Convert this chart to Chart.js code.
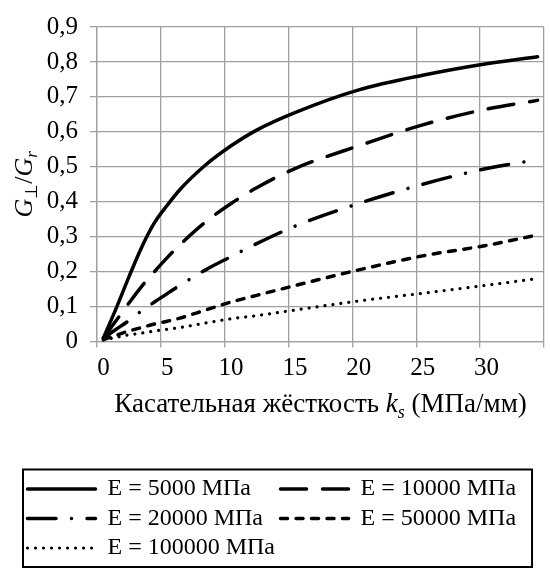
<!DOCTYPE html>
<html lang="ru">
<head>
<meta charset="UTF-8">
<title>G⊥/Gr от касательной жёсткости</title>
<script src="https://cdn.jsdelivr.net/npm/chart.js@4"></script>
<style>
  html, body { margin: 0; padding: 0; background: #fff; }
  #wrap { width: 550px; height: 575px; }
</style>
</head>
<body>
<div id="wrap"><canvas id="chart"></canvas></div>
<script>
// касательная жёсткость ks, МПа/мм
const ks = [0, 1, 2, 3, 4, 5, 6, 8, 10, 12, 15, 20, 25, 30, 34];

// G⊥/Gr
const e5000   = [0.01, 0.095, 0.185, 0.27, 0.34, 0.39, 0.435, 0.505, 0.56, 0.605, 0.655, 0.72, 0.762, 0.795, 0.815];
const e10000  = [0.01, 0.06, 0.11, 0.158, 0.2, 0.24, 0.277, 0.342, 0.395, 0.44, 0.495, 0.56, 0.62, 0.665, 0.69];
const e20000  = [0.01, 0.035, 0.06, 0.088, 0.113, 0.137, 0.161, 0.205, 0.243, 0.28, 0.33, 0.395, 0.45, 0.495, 0.52];
const e50000  = [0.005, 0.018, 0.03, 0.04, 0.05, 0.058, 0.067, 0.09, 0.113, 0.132, 0.16, 0.205, 0.245, 0.275, 0.305];
const e100000 = [0.004, 0.012, 0.019, 0.024, 0.03, 0.035, 0.04, 0.053, 0.065, 0.074, 0.09, 0.116, 0.138, 0.161, 0.18];

const seriesNames = ['E = 5000 МПа', 'E = 10000 МПа', 'E = 20000 МПа', 'E = 50000 МПа', 'E = 100000 МПа'];
const xTickLabels = ['0', '5', '10', '15', '20', '25', '30'];
const yTickLabels = ['0', '0,1', '0,2', '0,3', '0,4', '0,5', '0,6', '0,7', '0,8', '0,9'];

const FONT = '"Liberation Serif", "Times New Roman", serif';
const TICK_FS = 25;
const LEG_FS = 24;
const GRID = '#a0a0a0';

function pts(arr) {
  return ks.map((x, i) => ({ x: x, y: arr[i] }));
}

function line(name, arr, dash, width) {
  return {
    label: name,
    data: pts(arr),
    borderColor: '#000',
    backgroundColor: '#000',
    borderWidth: width,
    borderDash: dash,
    borderCapStyle: 'round',
    pointRadius: 0,
    cubicInterpolationMode: 'monotone'
  };
}

// текст из кусков (курсив, индексы)
function drawRich(ctx, parts, cx, baseY) {
  let total = 0;
  parts.forEach(p => { ctx.font = p.f; p.w = ctx.measureText(p.t).width; total += p.w; });
  let x = cx - total / 2;
  parts.forEach(p => {
    ctx.font = p.f;
    ctx.fillText(p.t, x, baseY + (p.dy || 0));
    x += p.w;
  });
}

const extras = {
  id: 'extras',
  afterDraw(chart) {
    const { ctx, chartArea, legend } = chart;
    ctx.save();
    ctx.fillStyle = '#000';
    ctx.textAlign = 'left';
    ctx.textBaseline = 'alphabetic';

    // подпись оси X
    drawRich(ctx, [
      { t: 'Касательная жёсткость ', f: `27px ${FONT}` },
      { t: 'k', f: `italic 27px ${FONT}` },
      { t: 's', f: `italic 18px ${FONT}`, dy: 6 },
      { t: ' (МПа/мм)', f: `27px ${FONT}` }
    ], (chartArea.left + chartArea.right) / 2, chartArea.bottom + 70);

    // подпись оси Y
    ctx.save();
    ctx.translate(32, (chartArea.top + chartArea.bottom) / 2);
    ctx.rotate(-Math.PI / 2);
    drawRich(ctx, [
      { t: 'G', f: `italic 26px ${FONT}` },
      { t: '⊥', f: `17px ${FONT}`, dy: 5 },
      { t: '/', f: `26px ${FONT}` },
      { t: 'G', f: `italic 26px ${FONT}` },
      { t: 'r', f: `italic 17px ${FONT}`, dy: 5 }
    ], 0, 0);
    ctx.restore();

    // рамка легенды
    const right = Math.max(...legend.legendHitBoxes.map(h => h.left + h.width)) + 16;
    ctx.strokeStyle = '#000';
    ctx.lineWidth = 2;
    ctx.strokeRect(legend.left + 1, legend.top - 2, right - legend.left - 1, legend.height - 1);
    ctx.restore();
  }
};

// левый столбец легенды дополняется пробелами до общей ширины
function padLabel(ctx, text, width) {
  ctx.font = `${LEG_FS}px ${FONT}`;
  const sp = ctx.measureText(' ').width;
  while (ctx.measureText(text).width + sp / 2 < width) text += ' ';
  return text;
}

new Chart(document.getElementById('chart'), {
  type: 'line',
  data: {
    datasets: [
      line(seriesNames[0], e5000, [], 3.5),
      line(seriesNames[1], e10000, [26, 16], 3.5),
      line(seriesNames[2], e20000, [28.5, 15.5, 0.01, 15.5], 3.5),
      line(seriesNames[3], e50000, [7, 8.5], 3.5),
      line(seriesNames[4], e100000, [0.01, 8], 3.2)
    ]
  },
  options: {
    responsive: true,
    maintainAspectRatio: false,
    animation: false,
    layout: { padding: { left: 22, right: 6, top: 17, bottom: 5 } },
    plugins: {
      tooltip: { enabled: false },
      legend: {
        position: 'bottom',
        align: 'start',
        labels: {
          usePointStyle: true,
          pointStyle: 'line',
          pointStyleWidth: 68,
          padding: 5.5,
          color: '#000',
          font: { family: FONT, size: LEG_FS },
          generateLabels(chart) {
            const items = Chart.defaults.plugins.legend.labels.generateLabels(chart);
            items.forEach(it => {
              const ds = chart.data.datasets[it.datasetIndex];
              it.text = it.datasetIndex % 2 === 0 && it.datasetIndex < 4 ? padLabel(chart.ctx, ds.label, 170) : ds.label;
              it.lineDash = ds.borderDash;
              it.lineWidth = ds.borderWidth;
              it.lineCap = 'round';
              it.strokeStyle = '#000';
            });
            return items;
          }
        }
      }
    },
    scales: {
      x: {
        type: 'linear',
        min: -0.5,
        max: 34.5,
        afterBuildTicks(scale) {
          scale.ticks = xTickLabels.map((t, i) => ({ value: i * 5 - 0.5 })).concat([{ value: 34.5 }]);
        },
        afterFit(scale) { scale.height = 130; },
        grid: { color: GRID, lineWidth: 1.3, tickLength: 6 },
        border: { color: GRID, width: 1.3 },
        ticks: {
          color: '#000',
          font: { family: FONT, size: TICK_FS },
          padding: 6,
          maxRotation: 0,
          labelOffset: 6.4,
          callback: (v, i) => xTickLabels[i] || ''
        }
      },
      y: {
        min: 0,
        max: 0.9,
        afterBuildTicks(scale) {
          scale.ticks = yTickLabels.map((t, i) => ({ value: i / 10 }));
        },
        afterFit(scale) { scale.width = 75; },
        grid: { color: GRID, lineWidth: 1.3, tickLength: 7 },
        border: { color: GRID, width: 1.3 },
        ticks: {
          color: '#000',
          font: { family: FONT, size: TICK_FS },
          padding: 12,
          callback: (v, i) => yTickLabels[i]
        }
      }
    }
  },
  plugins: [extras]
});
</script>
</body>
</html>
